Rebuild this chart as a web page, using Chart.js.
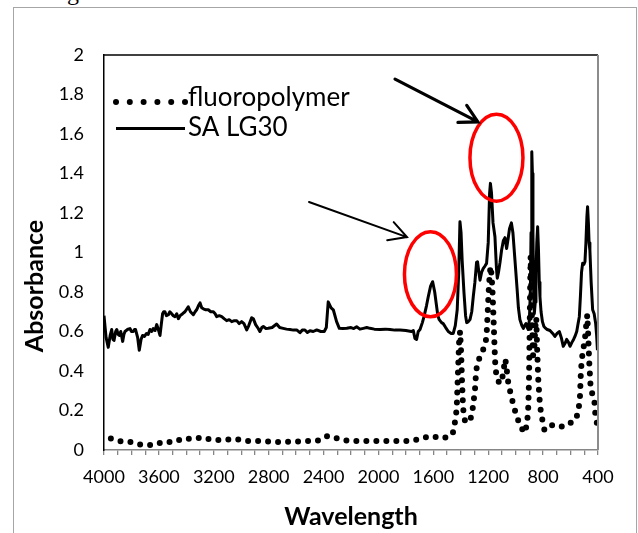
<!DOCTYPE html>
<html>
<head>
<meta charset="utf-8">
<script src="https://cdn.jsdelivr.net/npm/chart.js@4.4.1/dist/chart.umd.min.js"></script>
<style>
  html, body { margin: 0; padding: 0; background: #fff; }
  #wrap { position: relative; width: 638px; height: 533px; overflow: hidden; }
  #frame { position: absolute; left: 13px; top: 7px; width: 624px; height: 600px; border: 1.5px solid #a6a6a6; box-sizing: border-box; }
  #cap { position: absolute; left: 47px; top: -20px; font-size: 24px; line-height: 24px; font-family: "Liberation Serif", serif; }
  canvas { position: absolute; left: 0; top: 0; }
</style>
</head>
<body>
<div id="wrap">
  <div id="cap">Fig</div>
  <div id="frame"></div>
  <canvas id="irChart" width="638" height="533"></canvas>
</div>
<script>
// SA LG30 spectrum (solid line)
const saWave = [4000, 3985, 3969, 3955, 3944, 3935, 3927, 3915, 3907, 3897, 3889, 3878, 3864, 3855, 3847, 3830, 3811, 3800, 3787, 3778,
  3770, 3755, 3743, 3730, 3719, 3705, 3690, 3678, 3665, 3652, 3641, 3628, 3616, 3604, 3592, 3580, 3573, 3565, 3556, 3545,
  3531, 3520, 3507, 3495, 3483, 3470, 3458, 3445, 3427, 3410, 3386, 3370, 3349, 3336, 3325, 3312, 3300, 3288, 3276, 3258,
  3240, 3222, 3203, 3190, 3179, 3160, 3142, 3125, 3106, 3088, 3069, 3050, 3033, 3015, 2997, 2980, 2960, 2945, 2924, 2912,
  2895, 2876, 2864, 2850, 2839, 2820, 2803, 2775, 2742, 2720, 2694, 2670, 2645, 2620, 2596, 2572, 2555, 2536, 2518, 2499,
  2475, 2450, 2420, 2395, 2380, 2366, 2345, 2329, 2305, 2285, 2260, 2231, 2200, 2180, 2159, 2135, 2110, 2085, 2062, 2030,
  1989, 1950, 1916, 1880, 1843, 1800, 1760, 1746, 1734, 1722, 1710, 1697, 1680, 1668, 1650, 1637, 1620, 1605, 1590, 1576,
  1567, 1557, 1540, 1528, 1510, 1491, 1470, 1455, 1440, 1426, 1415, 1406, 1398, 1390, 1377, 1365, 1357, 1345, 1333, 1320,
  1309, 1297, 1285, 1278, 1268, 1260, 1248, 1236, 1225, 1212, 1200, 1190, 1184, 1176, 1165, 1151, 1140, 1134, 1125, 1114,
  1103, 1090, 1078, 1066, 1055, 1045, 1031, 1020, 1005, 990, 980, 969, 955, 944, 935, 925, 915, 908, 900, 893,
  888, 884, 881, 878, 874, 869, 864, 857, 852, 846, 840, 834, 828, 823, 815, 805, 794, 787, 770, 750,
  730, 714, 698, 682, 668, 653, 640, 628, 615, 604, 590, 578, 568, 555, 545, 536, 528, 520, 512, 503,
  495, 488, 481, 476, 470, 465, 459, 450, 439, 428, 417, 410, 404];
const saAbs = [0.68, 0.57, 0.52, 0.58, 0.61, 0.56, 0.555, 0.60, 0.61, 0.585, 0.58, 0.60, 0.55, 0.585, 0.60, 0.61, 0.615, 0.60, 0.60, 0.61,
  0.61, 0.57, 0.505, 0.56, 0.58, 0.575, 0.59, 0.585, 0.61, 0.60, 0.615, 0.605, 0.635, 0.61, 0.58, 0.65, 0.69, 0.70, 0.70, 0.68,
  0.685, 0.70, 0.69, 0.68, 0.675, 0.69, 0.665, 0.68, 0.69, 0.70, 0.725, 0.70, 0.685, 0.70, 0.71, 0.73, 0.745, 0.72, 0.715, 0.71,
  0.71, 0.70, 0.70, 0.69, 0.675, 0.68, 0.675, 0.665, 0.655, 0.66, 0.65, 0.655, 0.655, 0.64, 0.65, 0.64, 0.608, 0.63, 0.67, 0.665,
  0.635, 0.615, 0.60, 0.62, 0.625, 0.615, 0.616, 0.62, 0.638, 0.62, 0.616, 0.612, 0.61, 0.607, 0.608, 0.594, 0.607, 0.608, 0.595, 0.604,
  0.60, 0.608, 0.60, 0.60, 0.62, 0.75, 0.72, 0.71, 0.65, 0.616, 0.615, 0.616, 0.62, 0.615, 0.624, 0.612, 0.616, 0.62, 0.616, 0.612,
  0.61, 0.612, 0.61, 0.607, 0.608, 0.605, 0.60, 0.605, 0.565, 0.56, 0.60, 0.61, 0.645, 0.675, 0.73, 0.776, 0.83, 0.852, 0.80, 0.726,
  0.68, 0.66, 0.645, 0.64, 0.62, 0.60, 0.59, 0.59, 0.63, 0.71, 0.90, 1.156, 1.10, 0.96, 0.80, 0.68, 0.645, 0.65, 0.66, 0.70,
  0.776, 0.85, 0.95, 0.953, 0.90, 0.86, 0.90, 0.92, 0.93, 0.945, 1.05, 1.30, 1.35, 1.30, 1.15, 1.08, 0.92, 0.87, 0.90, 0.95,
  1.01, 1.06, 1.075, 1.02, 1.07, 1.12, 1.15, 1.10, 0.96, 0.82, 0.72, 0.66, 0.63, 0.616, 0.63, 0.64, 0.62, 0.61, 0.66, 0.80,
  1.10, 1.40, 1.51, 1.40, 1.10, 0.80, 0.69, 0.75, 0.90, 1.05, 1.13, 1.02, 0.85, 0.776, 0.70, 0.65, 0.625, 0.62, 0.61, 0.605,
  0.59, 0.575, 0.59, 0.60, 0.57, 0.525, 0.54, 0.56, 0.545, 0.525, 0.545, 0.56, 0.575, 0.60, 0.64, 0.675, 0.78, 0.90, 0.945, 0.94,
  0.953, 1.05, 1.18, 1.232, 1.15, 1.05, 1.01, 0.85, 0.71, 0.69, 0.64, 0.58, 0.505];

// fluoropolymer spectrum (dotted line)
const fpWave = [3950, 3883, 3816, 3750, 3690, 3630, 3568, 3495, 3422, 3348, 3281, 3210, 3128, 3047, 2962, 2877, 2796, 2714, 2626, 2536,
  2446, 2370, 2299, 2219, 2122, 2032, 1944, 1847, 1757, 1683, 1617, 1532, 1480, 1459, 1442, 1430, 1420, 1412, 1405, 1398,
  1390, 1383, 1370, 1350, 1333, 1315, 1297, 1288, 1275, 1260, 1241, 1220, 1212, 1205, 1197, 1188, 1182, 1175, 1168, 1162,
  1156, 1150, 1140, 1120, 1103, 1085, 1075, 1064, 1054, 1030, 1005, 978, 955, 940, 925, 915, 908, 903, 899, 895,
  891, 886, 880, 873, 865, 857, 850, 843, 835, 822, 805, 790, 770, 731, 700, 665, 629, 593, 560, 544,
  532, 525, 518, 505, 495, 485, 478, 471, 464, 454, 440, 427, 420, 406];
const fpAbs = [0.058, 0.045, 0.042, 0.029, 0.025, 0.026, 0.042, 0.040, 0.059, 0.056, 0.064, 0.051, 0.051, 0.056, 0.045, 0.046, 0.042, 0.040, 0.042, 0.045,
  0.046, 0.071, 0.059, 0.046, 0.046, 0.046, 0.046, 0.045, 0.046, 0.059, 0.071, 0.059, 0.07, 0.081, 0.143, 0.206, 0.40, 0.55, 0.60, 0.50,
  0.33, 0.21, 0.15, 0.14, 0.143, 0.20, 0.30, 0.40, 0.45, 0.47, 0.50, 0.54, 0.58, 0.68, 0.80, 0.90, 0.93, 0.88, 0.79, 0.68,
  0.56, 0.45, 0.37, 0.34, 0.34, 0.42, 0.46, 0.40, 0.34, 0.265, 0.20, 0.143, 0.11, 0.086, 0.11, 0.15, 0.22, 0.35, 0.55, 0.80,
  0.98, 0.80, 0.62, 0.48, 0.50, 0.62, 0.67, 0.50, 0.35, 0.22, 0.15, 0.10, 0.11, 0.127, 0.12, 0.118, 0.135, 0.138, 0.16, 0.194,
  0.26, 0.39, 0.46, 0.52, 0.565, 0.64, 0.684, 0.574, 0.447, 0.32, 0.28, 0.253, 0.186, 0.127];

const seriesNames = ['fluoropolymer', 'SA LG30'];
const xTickLabels = [4000, 3600, 3200, 2800, 2400, 2000, 1600, 1200, 800, 400];
const yTickLabels = [0, 0.2, 0.4, 0.6, 0.8, 1, 1.2, 1.4, 1.6, 1.8, 2];

const FONT = 'Lato';

function toPoints(xs, ys) {
    return xs.map((x, i) => ({ x: x, y: ys[i] }));
}

// draws plot box, the inside legend, red circles, arrows and axis titles
const decorPlugin = {
    id: 'decor',
    afterDraw(chart) {
        const ctx = chart.ctx;
        const a = chart.chartArea;
        const xs = chart.scales.x, ys = chart.scales.y;
        ctx.save();

        // top and right border of the plot area
        ctx.lineCap = 'butt';
        ctx.strokeStyle = '#000';
        ctx.lineWidth = 1.5;
        ctx.beginPath();
        ctx.moveTo(a.left, a.top);
        ctx.lineTo(a.right, a.top);
        ctx.stroke();
        ctx.strokeStyle = '#8c8c8c';
        ctx.lineWidth = 2;
        ctx.beginPath();
        ctx.moveTo(a.right, a.top);
        ctx.lineTo(a.right, a.bottom);
        ctx.stroke();

        // legend
        ctx.fillStyle = '#000';
        for (let i = 0; i < 6; i++) {
            ctx.beginPath();
            ctx.arc(a.left + 12 + i * 13.8, a.top + 47, 3, 0, Math.PI * 2);
            ctx.fill();
        }
        ctx.strokeStyle = '#000';
        ctx.lineWidth = 3;
        ctx.beginPath();
        ctx.moveTo(a.left + 12, a.top + 73.5);
        ctx.lineTo(a.left + 81, a.top + 73.5);
        ctx.stroke();
        ctx.font = '26px ' + FONT;
        ctx.textBaseline = 'alphabetic';
        ctx.textAlign = 'left';
        ctx.fillText(seriesNames[0], a.left + 84, a.top + 51);
        ctx.fillText(seriesNames[1], a.left + 84, a.top + 81);

        // red ellipses round the marked peaks
        ctx.strokeStyle = '#ff0000';
        ctx.lineWidth = 3.5;
        [[1140, 1.48, 26.5, 43.5], [1621, 0.89, 26, 42.5]].forEach(e => {
            ctx.beginPath();
            ctx.ellipse(xs.getPixelForValue(e[0]), ys.getPixelForValue(e[1]), e[2], e[3], 0, 0, Math.PI * 2);
            ctx.stroke();
        });

        // arrows
        ctx.strokeStyle = '#000';
        ctx.lineCap = 'round';
        [[1879, 1.878, 1275, 1.661, 3.2], [2506, 1.256, 1792, 1.078, 2]].forEach(r => {
            const x0 = xs.getPixelForValue(r[0]), y0 = ys.getPixelForValue(r[1]);
            const x1 = xs.getPixelForValue(r[2]), y1 = ys.getPixelForValue(r[3]);
            const ang = Math.atan2(y0 - y1, x0 - x1);
            ctx.lineWidth = r[4];
            ctx.beginPath();
            ctx.moveTo(x0, y0);
            ctx.lineTo(x1, y1);
            ctx.moveTo(x1 + 20 * Math.cos(ang + 0.5), y1 + 20 * Math.sin(ang + 0.5));
            ctx.lineTo(x1, y1);
            ctx.lineTo(x1 + 20 * Math.cos(ang - 0.5), y1 + 20 * Math.sin(ang - 0.5));
            ctx.stroke();
        });

        // axis titles
        ctx.fillStyle = '#000';
        ctx.font = 'bold 25px ' + FONT;
        ctx.textAlign = 'center';
        ctx.textBaseline = 'middle';
        ctx.fillText('Wavelength', (a.left + a.right) / 2, 517);
        ctx.translate(35, 286);
        ctx.rotate(-Math.PI / 2);
        ctx.fillText('Absorbance', 0, 0);
        ctx.restore();
    }
};

const ctx = document.getElementById('irChart').getContext('2d');
new Chart(ctx, {
    type: 'line',
    data: {
        datasets: [{
            label: seriesNames[0],
            data: toPoints(fpWave, fpAbs),
            borderColor: '#000',
            borderWidth: 6,
            borderDash: [0, 10],
            borderCapStyle: 'round',
            pointRadius: 0,
            tension: 0,
            fill: false
        }, {
            label: seriesNames[1],
            data: toPoints(saWave, saAbs),
            borderColor: '#000',
            borderWidth: 3,
            borderJoinStyle: 'round',
            pointRadius: 0,
            tension: 0,
            fill: false
        }]
    },
    options: {
        responsive: false,
        animation: false,
        devicePixelRatio: 1,
        layout: { padding: { left: 0, top: 55, right: 40, bottom: 0 } },
        plugins: {
            legend: { display: false },
            tooltip: { enabled: false }
        },
        scales: {
            x: {
                type: 'linear',
                reverse: true,
                min: 400,
                max: 4000,
                afterFit: s => { s.height = 83; },
                border: { display: true, color: '#868686', width: 1.5 },
                grid: { display: true, drawOnChartArea: false, drawTicks: true, tickLength: 5, color: '#868686', lineWidth: 1.3 },
                ticks: {
                    stepSize: 100,
                    autoSkip: false,
                    maxRotation: 0,
                    padding: 11,
                    color: '#000',
                    font: { family: FONT, size: 18 },
                    callback: v => xTickLabels.includes(v) ? String(v) : ''
                }
            },
            y: {
                min: 0,
                max: 2,
                afterFit: s => { s.width = 104; },
                border: { display: true, color: '#000', width: 1.5 },
                grid: { display: false, drawTicks: false },
                ticks: {
                    stepSize: 0.2,
                    padding: 20,
                    color: '#000',
                    font: { family: FONT, size: 18 },
                    callback: v => {
                        const t = yTickLabels.find(l => Math.abs(l - v) < 1e-6);
                        return t === undefined ? '' : String(t);
                    }
                }
            }
        }
    },
    plugins: [decorPlugin]
});
</script>
</body>
</html>
